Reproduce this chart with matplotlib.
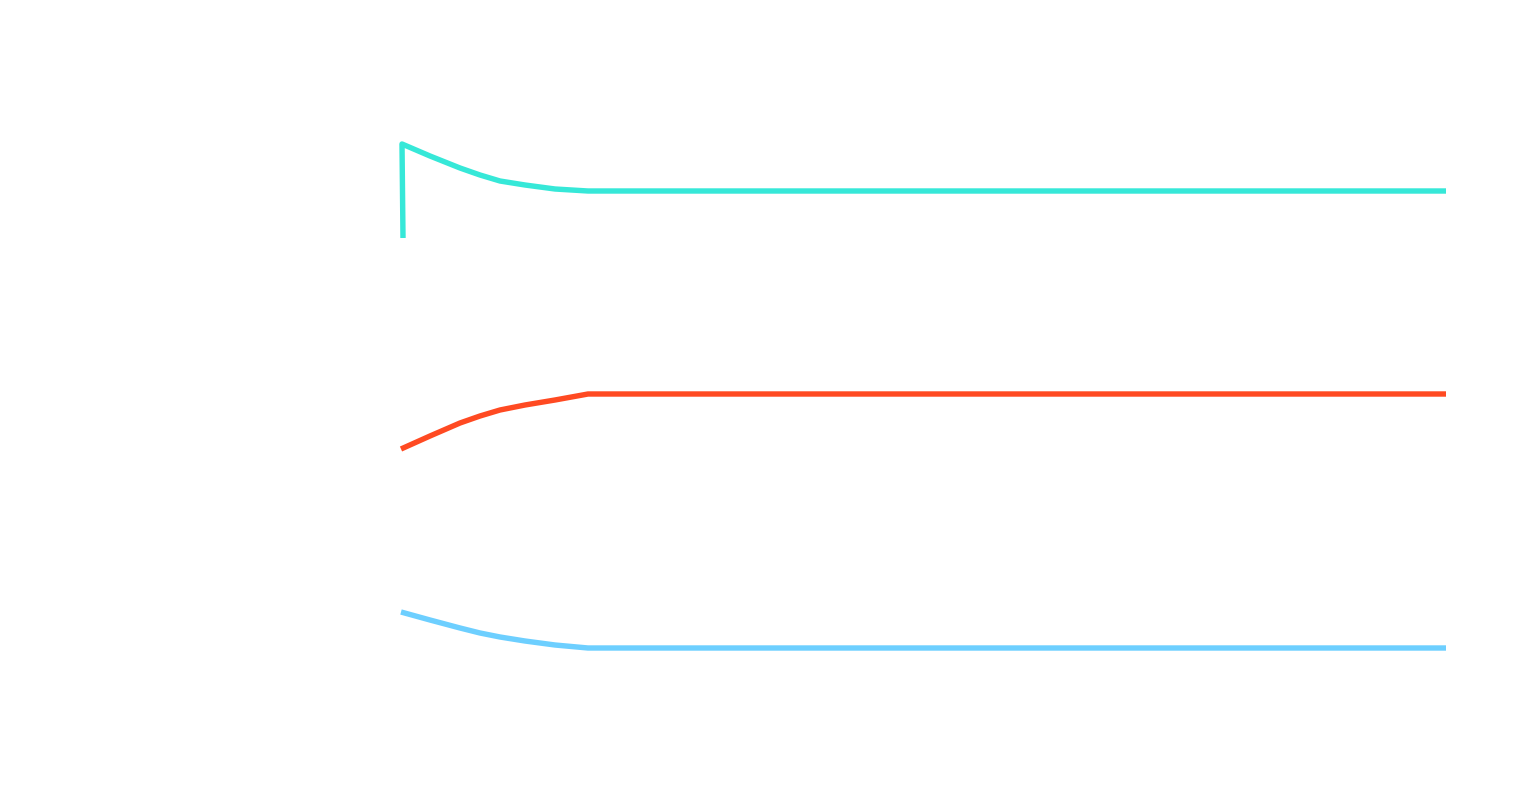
import matplotlib
matplotlib.use('Agg')
import matplotlib.pyplot as plt

# values (x and height from the bottom, in px units)
x_top = [403, 402, 430, 460, 480, 500, 525, 555, 588, 1446]
y_top = [562, 656, 644, 632, 625, 619, 615, 611, 609, 609]

x_mid = [401, 430, 460, 480, 500, 525, 555, 588, 1446]
y_mid = [351, 364, 377, 384, 390, 395, 400, 406, 406]

x_low = [401, 430, 460, 480, 500, 525, 555, 588, 1446]
y_low = [188, 180, 172, 167, 163, 159, 155, 152, 152]

colors = ['#36e8d8', '#ff4a22', '#6dcfff']

fig = plt.figure(figsize=(15.24, 8), dpi=100)
ax = fig.add_axes([0, 0, 1, 1])
ax.set_xlim(0, 1524)
ax.set_ylim(0, 800)
ax.axis('off')

for xs, ys, c in zip([x_top, x_mid, x_low], [y_top, y_mid, y_low], colors):
    ax.plot(xs, ys, color=c, linewidth=3.9, solid_joinstyle='round', solid_capstyle='butt')

fig.savefig('out.png', dpi=100, facecolor='white')
